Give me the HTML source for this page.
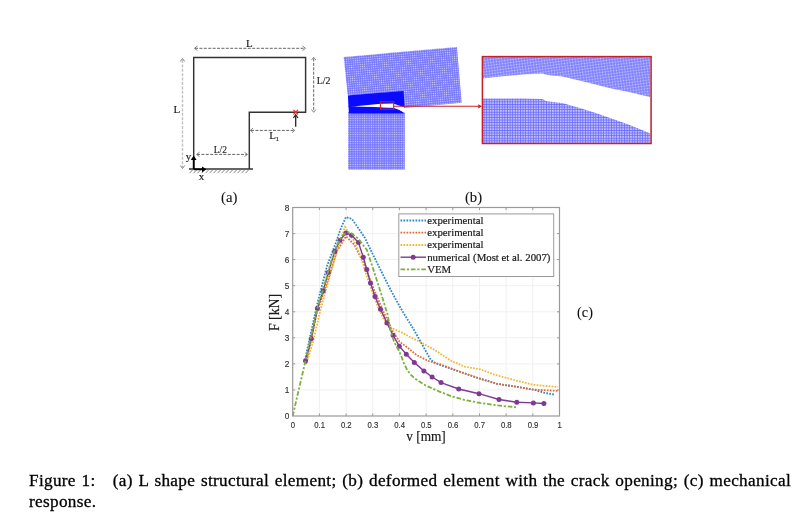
<!DOCTYPE html>
<html><head><meta charset="utf-8"><style>
html,body{margin:0;padding:0;background:#fff;width:811px;height:525px;overflow:hidden}
svg{position:absolute;left:0;top:0;will-change:transform}
.cap{position:absolute;will-change:transform;left:29px;width:762px;font-family:"Liberation Serif",serif;font-size:17.2px;letter-spacing:0.32px;color:#000;-webkit-text-stroke:0.3px #000;line-height:20.4px;text-align:justify;white-space:nowrap}
</style></head><body>
<svg width="811" height="525" viewBox="0 0 811 525">
<g stroke="#333" stroke-width="1.45" fill="none">
<polyline points="193.7,169 193.7,57.4 305.6,57.4 305.6,112.3 249.3,112.3 249.3,169"/>
</g>
<line x1="189" y1="169" x2="253" y2="169" stroke="#333" stroke-width="1.4"/>
<g stroke="#777" stroke-width="0.9"><line x1="192.5" y1="170" x2="189.5" y2="173.2"/><line x1="196.5" y1="170" x2="193.5" y2="173.2"/><line x1="200.5" y1="170" x2="197.5" y2="173.2"/><line x1="204.5" y1="170" x2="201.5" y2="173.2"/><line x1="208.5" y1="170" x2="205.5" y2="173.2"/><line x1="212.5" y1="170" x2="209.5" y2="173.2"/><line x1="216.5" y1="170" x2="213.5" y2="173.2"/><line x1="220.5" y1="170" x2="217.5" y2="173.2"/><line x1="224.5" y1="170" x2="221.5" y2="173.2"/><line x1="228.5" y1="170" x2="225.5" y2="173.2"/><line x1="232.5" y1="170" x2="229.5" y2="173.2"/><line x1="236.5" y1="170" x2="233.5" y2="173.2"/><line x1="240.5" y1="170" x2="237.5" y2="173.2"/><line x1="244.5" y1="170" x2="241.5" y2="173.2"/><line x1="248.5" y1="170" x2="245.5" y2="173.2"/></g>
<g stroke="#666" stroke-width="1" stroke-dasharray="3,1.4" fill="none">
<line x1="195" y1="48.3" x2="304.5" y2="48.3"/>
<line x1="182.5" y1="60" x2="182.5" y2="167.5" stroke="#c0c0c0" stroke-width="1.4"/>
<line x1="313.7" y1="58.5" x2="313.7" y2="111"/>
<line x1="197" y1="154.4" x2="247" y2="154.4"/>
<line x1="251" y1="130.4" x2="294" y2="130.4"/>
</g>
<g stroke="#666" stroke-width="0.8" fill="none">
<polyline points="197.5,46 194.5,48.3 197.5,50.6"/><polyline points="302.5,46 305.5,48.3 302.5,50.6"/>
<polyline points="180.3,61.5 182.5,58.5 184.7,61.5"/><polyline points="180.3,165.5 182.5,168.5 184.7,165.5"/>
<polyline points="311.5,60 313.7,57.3 315.9,60"/><polyline points="311.5,109.5 313.7,112.3 315.9,109.5"/>
<polyline points="199.5,152.2 196.5,154.4 199.5,156.6"/><polyline points="244.5,152.2 247.5,154.4 244.5,156.6"/>
<polyline points="253,128.2 250.3,130.4 253,132.6"/><polyline points="292,128.2 294.7,130.4 292,132.6"/>
</g>
<line x1="295.7" y1="126.7" x2="295.7" y2="116" stroke="#222" stroke-width="1.3"/>
<polyline points="293.4,118 295.7,114.7 298,118" stroke="#222" stroke-width="1.2" fill="none"/>
<g stroke="#f03030" stroke-width="1.2"><line x1="293.5" y1="110" x2="298" y2="114.5"/><line x1="298" y1="110" x2="293.5" y2="114.5"/></g>
<line x1="193.7" y1="169" x2="193.7" y2="159" stroke="#000" stroke-width="1.8"/>
<polygon points="190.8,160 193.7,155.5 196.6,160" fill="#000"/>
<line x1="193.7" y1="169.3" x2="203" y2="169.3" stroke="#000" stroke-width="1.8"/>
<polygon points="202,166.4 206.5,169.3 202,172.2" fill="#000"/>
<text x="249.3" y="46.5" font-size="11" text-anchor="middle" font-family="Liberation Serif" fill="#1a1a1a" stroke="#1a1a1a" stroke-width="0.15">L</text>
<text x="176.8" y="112.8" font-size="11" text-anchor="middle" font-family="Liberation Serif" fill="#1a1a1a" stroke="#1a1a1a" stroke-width="0.15">L</text>
<text transform="translate(323.6,84.3) scale(0.9,1)" font-size="11" text-anchor="middle" font-family="Liberation Serif" fill="#1a1a1a" stroke="#1a1a1a" stroke-width="0.15">L/2</text>
<text transform="translate(220.3,153) scale(0.86,1)" font-size="11" text-anchor="middle" font-family="Liberation Serif" fill="#1a1a1a" stroke="#1a1a1a" stroke-width="0.15">L/2</text>
<text x="272.5" y="139" font-size="11" text-anchor="middle" font-family="Liberation Serif" fill="#1a1a1a" stroke="#1a1a1a" stroke-width="0.15">L</text>
<text x="277.3" y="141.3" font-size="7" text-anchor="middle" font-family="Liberation Serif" fill="#1a1a1a" stroke="#1a1a1a" stroke-width="0.15">1</text>
<text x="188.5" y="160" font-size="11" text-anchor="middle" font-family="Liberation Serif" fill="#1a1a1a" stroke="#1a1a1a" stroke-width="0.15">y</text>
<text x="201.5" y="180" font-size="11" text-anchor="middle" font-family="Liberation Serif" fill="#1a1a1a" stroke="#1a1a1a" stroke-width="0.15">x</text>
<text transform="translate(229.2,202) scale(0.95,1)" font-size="15.5" text-anchor="middle" font-family="Liberation Serif" fill="#111" stroke="#111" stroke-width="0.1">(a)</text>
<text transform="translate(473.5,202) scale(0.95,1)" font-size="15.5" text-anchor="middle" font-family="Liberation Serif" fill="#111" stroke="#111" stroke-width="0.1">(b)</text>
<text transform="translate(585,316.8) scale(0.92,1)" font-size="15.5" text-anchor="middle" font-family="Liberation Serif" fill="#111" stroke="#111" stroke-width="0.1">(c)</text>
<defs>
<pattern id="mesh" width="2.3" height="2.3" patternUnits="userSpaceOnUse"><rect width="2.3" height="2.3" fill="#6c6cff"/><rect x="0.5" y="0.5" width="1.3" height="1.3" fill="#d0d0fc"/></pattern>
<pattern id="meshr" width="2.2" height="2.2" patternUnits="userSpaceOnUse" patternTransform="rotate(-5)"><rect width="2.2" height="2.2" fill="#6c6cff"/><rect x="0.5" y="0.5" width="1.25" height="1.25" fill="#d0d0fc"/></pattern>
<pattern id="mesh2" width="2.6" height="2.6" patternUnits="userSpaceOnUse"><rect width="2.6" height="2.6" fill="#6464ff"/><rect x="0.7" y="0.7" width="1.9" height="1.9" fill="#bcbcfa"/></pattern>
<pattern id="mesh3" width="2.8" height="2.8" patternUnits="userSpaceOnUse" patternTransform="rotate(-8)"><rect width="2.8" height="2.8" fill="#7a7aff"/><rect x="0.6" y="0.6" width="1.6" height="1.6" fill="#cacafb"/></pattern>
</defs>
<polygon points="343.7,57 456.9,47 461.7,102.7 404.6,107.9 347.7,95.3" fill="url(#meshr)"/>
<rect x="348.1" y="112" width="56.7" height="57.6" fill="url(#mesh)"/>
<polygon points="347.9,95.4 403.6,90.9 404.6,108.2 393.3,107.7 380,106 357,106.2 348.5,107" fill="#0a0aff"/>
<path d="M348.5,106 L357,106.4 L380,107 L393.3,107.7 Q400,109 404.6,113.6 L348.9,113.6 Z" fill="#0a0aff"/>
<path d="M355.3,106.3 L380.7,103.8 L393,103.6 L399,105.6 L404.6,107.6 L404.8,113 Q400,109.5 393.3,107.8 L380,107.3 Z" fill="#fff"/>
<rect x="380.4" y="101.8" width="13.3" height="7.4" fill="none" stroke="#c8202a" stroke-width="1.1"/>
<line x1="393.7" y1="106.3" x2="478" y2="106.3" stroke="#c8202a" stroke-width="1.1"/>
<polygon points="478.2,104.2 482,106.3 478.2,108.4" fill="#c8202a"/>
<clipPath id="zc"><rect x="482" y="57" width="168.6" height="86.5"/></clipPath>
<g clip-path="url(#zc)">
<rect x="482" y="57" width="168.6" height="43" fill="url(#mesh3)"/>
<rect x="482" y="98" width="168.6" height="46" fill="url(#mesh2)"/>
<path d="M480,78.6 L482.4,78.6 L500.2,76.4 L522.4,74.6 L542.4,73.5 L546.8,74.9 L562.3,76.4 L577.2,79.9 L594.3,84.2 L611.5,88.4 L628.6,91.9 L653,97.6 L653,134.6 L628.6,124.5 L611.5,118.5 L594.3,112.5 L577.2,107.3 L562.3,103 L546.8,101.3 L542.4,99 L522.4,98.6 L482.4,98.6 L480,98.6 Z" fill="#fff"/>
</g>
<rect x="482.4" y="56.6" width="168.7" height="86.9" fill="none" stroke="#c8202a" stroke-width="1.5"/>
<g stroke="#f0f0f0" stroke-width="1"><line x1="319.4" y1="207.5" x2="319.4" y2="416"/><line x1="346.1" y1="207.5" x2="346.1" y2="416"/><line x1="372.7" y1="207.5" x2="372.7" y2="416"/><line x1="399.4" y1="207.5" x2="399.4" y2="416"/><line x1="426.1" y1="207.5" x2="426.1" y2="416"/><line x1="452.8" y1="207.5" x2="452.8" y2="416"/><line x1="479.5" y1="207.5" x2="479.5" y2="416"/><line x1="506.1" y1="207.5" x2="506.1" y2="416"/><line x1="532.8" y1="207.5" x2="532.8" y2="416"/><line x1="292.7" y1="389.9" x2="559.5" y2="389.9"/><line x1="292.7" y1="363.9" x2="559.5" y2="363.9"/><line x1="292.7" y1="337.8" x2="559.5" y2="337.8"/><line x1="292.7" y1="311.8" x2="559.5" y2="311.8"/><line x1="292.7" y1="285.7" x2="559.5" y2="285.7"/><line x1="292.7" y1="259.6" x2="559.5" y2="259.6"/><line x1="292.7" y1="233.6" x2="559.5" y2="233.6"/></g>
<polyline points="305.0,360.0 317.0,305.0 327.0,266.0 335.0,245.0 341.0,228.0 346.0,217.0 352.0,219.0 365.0,238.0 370.7,250.0 382.8,274.4 390.5,289.6 399.6,306.3 406.0,317.0 414.0,330.0 420.5,341.6 430.8,359.9 435.3,363.3 459.0,371.4 478.0,378.0 497.0,383.8 516.0,386.7 533.4,389.6 545.0,393.0 555.0,394.7" fill="none" stroke="#2f86c8" stroke-width="1.8" stroke-dasharray="1.7,1.3"/>
<polyline points="306.0,364.0 317.0,312.0 328.0,280.0 337.0,251.0 346.0,236.4 354.0,244.4 363.0,261.6 369.0,277.0 374.5,291.0 379.8,303.3 384.4,314.0 388.9,323.0 392.0,330.0 399.5,341.7 405.7,346.2 417.0,355.3 428.5,361.0 440.0,364.2 459.0,371.4 478.0,378.1 497.0,383.8 516.0,386.7 533.4,389.6 558.0,390.9" fill="none" stroke="#df6a32" stroke-width="1.8" stroke-dasharray="1.7,1.3"/>
<polyline points="306.5,363.0 313.0,342.0 320.0,312.0 330.0,275.0 338.0,248.0 345.0,227.0 354.0,241.0 361.0,257.0 366.0,274.0 372.0,291.0 378.0,307.0 383.5,318.8 391.5,328.0 401.8,332.5 410.0,337.0 419.4,341.6 435.3,350.3 451.4,361.0 464.8,366.7 480.0,369.2 493.4,374.3 516.2,380.6 533.4,384.8 558.0,387.0" fill="none" stroke="#efb933" stroke-width="1.8" stroke-dasharray="1.7,1.3"/>
<polyline points="305.5,360.7 311.3,338.8 317.4,308.5 323.2,290.7 328.2,272.6 334.7,251.5 340.0,240.2 346.0,233.0 351.5,235.2 358.5,242.6 363.3,257.3 366.8,269.5 370.5,283.0 375.0,296.5 380.5,309.2 386.9,322.9 393.1,335.3 399.3,346.2 406.3,354.2 414.3,362.6 423.9,370.9 432.1,377.0 441.0,382.6 458.7,389.0 479.0,393.7 499.0,399.5 516.8,402.3 533.4,402.9 543.9,403.5" fill="none" stroke="#7e3a92" stroke-width="1.4"/>
<g fill="#7e3a92"><circle cx="305.5" cy="360.7" r="2.5"/><circle cx="311.3" cy="338.8" r="2.5"/><circle cx="317.4" cy="308.5" r="2.5"/><circle cx="323.2" cy="290.7" r="2.5"/><circle cx="328.2" cy="272.6" r="2.5"/><circle cx="334.7" cy="251.5" r="2.5"/><circle cx="340" cy="240.2" r="2.5"/><circle cx="346" cy="233" r="2.5"/><circle cx="351.5" cy="235.2" r="2.5"/><circle cx="358.5" cy="242.6" r="2.5"/><circle cx="363.3" cy="257.3" r="2.5"/><circle cx="366.8" cy="269.5" r="2.5"/><circle cx="370.5" cy="283" r="2.5"/><circle cx="375" cy="296.5" r="2.5"/><circle cx="380.5" cy="309.2" r="2.5"/><circle cx="386.9" cy="322.9" r="2.5"/><circle cx="393.1" cy="335.3" r="2.5"/><circle cx="399.3" cy="346.2" r="2.5"/><circle cx="406.3" cy="354.2" r="2.5"/><circle cx="414.3" cy="362.6" r="2.5"/><circle cx="423.9" cy="370.9" r="2.5"/><circle cx="432.1" cy="377" r="2.5"/><circle cx="441" cy="382.6" r="2.5"/><circle cx="458.7" cy="389" r="2.5"/><circle cx="479" cy="393.7" r="2.5"/><circle cx="499" cy="399.5" r="2.5"/><circle cx="516.8" cy="402.3" r="2.5"/><circle cx="533.4" cy="402.9" r="2.5"/><circle cx="543.9" cy="403.5" r="2.5"/></g>
<polyline points="292.7,416.0 305.5,360.7 317.0,310.0 328.0,272.0 334.0,252.0 338.0,243.0 342.4,235.5 347.0,232.3 350.0,232.3 358.3,238.7 366.9,250.0 375.2,275.1 381.3,294.2 387.4,314.0 390.5,330.0 394.0,341.7 397.7,348.5 400.5,354.0 404.0,363.5 407.4,370.3 411.0,375.0 415.0,378.6 425.7,385.5 439.4,391.6 451.4,396.2 464.8,400.0 480.0,402.9 497.0,405.4 516.0,407.3" fill="none" stroke="#7cb03a" stroke-width="1.8" stroke-dasharray="4.6,1.8,2.2,1.8"/>
<rect x="292.7" y="207.5" width="266.8" height="208.5" fill="none" stroke="#9a9a9a" stroke-width="1.2"/>
<g stroke="#9a9a9a" stroke-width="1"><line x1="319.4" y1="416" x2="319.4" y2="413.5"/><line x1="319.4" y1="207.5" x2="319.4" y2="210"/><line x1="346.1" y1="416" x2="346.1" y2="413.5"/><line x1="346.1" y1="207.5" x2="346.1" y2="210"/><line x1="372.7" y1="416" x2="372.7" y2="413.5"/><line x1="372.7" y1="207.5" x2="372.7" y2="210"/><line x1="399.4" y1="416" x2="399.4" y2="413.5"/><line x1="399.4" y1="207.5" x2="399.4" y2="210"/><line x1="426.1" y1="416" x2="426.1" y2="413.5"/><line x1="426.1" y1="207.5" x2="426.1" y2="210"/><line x1="452.8" y1="416" x2="452.8" y2="413.5"/><line x1="452.8" y1="207.5" x2="452.8" y2="210"/><line x1="479.5" y1="416" x2="479.5" y2="413.5"/><line x1="479.5" y1="207.5" x2="479.5" y2="210"/><line x1="506.1" y1="416" x2="506.1" y2="413.5"/><line x1="506.1" y1="207.5" x2="506.1" y2="210"/><line x1="532.8" y1="416" x2="532.8" y2="413.5"/><line x1="532.8" y1="207.5" x2="532.8" y2="210"/><line x1="292.7" y1="389.9" x2="295.2" y2="389.9"/><line x1="559.5" y1="389.9" x2="557" y2="389.9"/><line x1="292.7" y1="363.9" x2="295.2" y2="363.9"/><line x1="559.5" y1="363.9" x2="557" y2="363.9"/><line x1="292.7" y1="337.8" x2="295.2" y2="337.8"/><line x1="559.5" y1="337.8" x2="557" y2="337.8"/><line x1="292.7" y1="311.8" x2="295.2" y2="311.8"/><line x1="559.5" y1="311.8" x2="557" y2="311.8"/><line x1="292.7" y1="285.7" x2="295.2" y2="285.7"/><line x1="559.5" y1="285.7" x2="557" y2="285.7"/><line x1="292.7" y1="259.6" x2="295.2" y2="259.6"/><line x1="559.5" y1="259.6" x2="557" y2="259.6"/><line x1="292.7" y1="233.6" x2="295.2" y2="233.6"/><line x1="559.5" y1="233.6" x2="557" y2="233.6"/></g>
<rect x="398.8" y="213.9" width="154.9" height="62.6" fill="#fff" stroke="#9a9a9a" stroke-width="1"/>
<line x1="400.5" y1="220.5" x2="426" y2="220.5" stroke="#2f86c8" stroke-width="1.8" stroke-dasharray="1.7,1.3"/>
<line x1="400.5" y1="232.7" x2="426" y2="232.7" stroke="#df6a32" stroke-width="1.8" stroke-dasharray="1.7,1.3"/>
<line x1="400.5" y1="245" x2="426" y2="245" stroke="#efb933" stroke-width="1.8" stroke-dasharray="1.7,1.3"/>
<line x1="400.5" y1="257.2" x2="426" y2="257.2" stroke="#7e3a92" stroke-width="1.4"/><circle cx="413.2" cy="257.2" r="2.5" fill="#7e3a92"/>
<line x1="400.5" y1="269.4" x2="426" y2="269.4" stroke="#7cb03a" stroke-width="1.8" stroke-dasharray="4.6,1.8,2.2,1.8"/>
<text x="427.2" y="223.8" font-family="Liberation Serif" font-size="10.8" fill="#1a1a1a" stroke="#1a1a1a" stroke-width="0.2">experimental</text>
<text x="427.2" y="236.0" font-family="Liberation Serif" font-size="10.8" fill="#1a1a1a" stroke="#1a1a1a" stroke-width="0.2">experimental</text>
<text x="427.2" y="248.3" font-family="Liberation Serif" font-size="10.8" fill="#1a1a1a" stroke="#1a1a1a" stroke-width="0.2">experimental</text>
<text x="427.2" y="260.5" font-family="Liberation Serif" font-size="10.8" fill="#1a1a1a" stroke="#1a1a1a" stroke-width="0.2">numerical (Most et al. 2007)</text>
<text x="427.2" y="272.7" font-family="Liberation Serif" font-size="10.8" fill="#1a1a1a" stroke="#1a1a1a" stroke-width="0.2">VEM</text>
<text transform="translate(289.3,419.1) scale(0.92,1)" text-anchor="end" font-family="Liberation Sans" font-size="9" fill="#303030" stroke="#303030" stroke-width="0.15">0</text>
<text transform="translate(289.3,393.0) scale(0.92,1)" text-anchor="end" font-family="Liberation Sans" font-size="9" fill="#303030" stroke="#303030" stroke-width="0.15">1</text>
<text transform="translate(289.3,367.0) scale(0.92,1)" text-anchor="end" font-family="Liberation Sans" font-size="9" fill="#303030" stroke="#303030" stroke-width="0.15">2</text>
<text transform="translate(289.3,340.9) scale(0.92,1)" text-anchor="end" font-family="Liberation Sans" font-size="9" fill="#303030" stroke="#303030" stroke-width="0.15">3</text>
<text transform="translate(289.3,314.9) scale(0.92,1)" text-anchor="end" font-family="Liberation Sans" font-size="9" fill="#303030" stroke="#303030" stroke-width="0.15">4</text>
<text transform="translate(289.3,288.8) scale(0.92,1)" text-anchor="end" font-family="Liberation Sans" font-size="9" fill="#303030" stroke="#303030" stroke-width="0.15">5</text>
<text transform="translate(289.3,262.7) scale(0.92,1)" text-anchor="end" font-family="Liberation Sans" font-size="9" fill="#303030" stroke="#303030" stroke-width="0.15">6</text>
<text transform="translate(289.3,236.7) scale(0.92,1)" text-anchor="end" font-family="Liberation Sans" font-size="9" fill="#303030" stroke="#303030" stroke-width="0.15">7</text>
<text transform="translate(289.3,210.6) scale(0.92,1)" text-anchor="end" font-family="Liberation Sans" font-size="9" fill="#303030" stroke="#303030" stroke-width="0.15">8</text>
<text transform="translate(292.9,428) scale(0.86,1)" text-anchor="middle" font-family="Liberation Sans" font-size="9" fill="#303030" stroke="#303030" stroke-width="0.15">0</text>
<text transform="translate(319.6,428) scale(0.86,1)" text-anchor="middle" font-family="Liberation Sans" font-size="9" fill="#303030" stroke="#303030" stroke-width="0.15">0.1</text>
<text transform="translate(346.3,428) scale(0.86,1)" text-anchor="middle" font-family="Liberation Sans" font-size="9" fill="#303030" stroke="#303030" stroke-width="0.15">0.2</text>
<text transform="translate(372.9,428) scale(0.86,1)" text-anchor="middle" font-family="Liberation Sans" font-size="9" fill="#303030" stroke="#303030" stroke-width="0.15">0.3</text>
<text transform="translate(399.6,428) scale(0.86,1)" text-anchor="middle" font-family="Liberation Sans" font-size="9" fill="#303030" stroke="#303030" stroke-width="0.15">0.4</text>
<text transform="translate(426.3,428) scale(0.86,1)" text-anchor="middle" font-family="Liberation Sans" font-size="9" fill="#303030" stroke="#303030" stroke-width="0.15">0.5</text>
<text transform="translate(453.0,428) scale(0.86,1)" text-anchor="middle" font-family="Liberation Sans" font-size="9" fill="#303030" stroke="#303030" stroke-width="0.15">0.6</text>
<text transform="translate(479.7,428) scale(0.86,1)" text-anchor="middle" font-family="Liberation Sans" font-size="9" fill="#303030" stroke="#303030" stroke-width="0.15">0.7</text>
<text transform="translate(506.3,428) scale(0.86,1)" text-anchor="middle" font-family="Liberation Sans" font-size="9" fill="#303030" stroke="#303030" stroke-width="0.15">0.8</text>
<text transform="translate(533.0,428) scale(0.86,1)" text-anchor="middle" font-family="Liberation Sans" font-size="9" fill="#303030" stroke="#303030" stroke-width="0.15">0.9</text>
<text transform="translate(559.7,428) scale(0.86,1)" text-anchor="middle" font-family="Liberation Sans" font-size="9" fill="#303030" stroke="#303030" stroke-width="0.15">1</text>
<text transform="translate(426,441) scale(0.92,1)" font-size="14.5" text-anchor="middle" font-family="Liberation Serif" fill="#1a1a1a" stroke="#1a1a1a" stroke-width="0.2">v [mm]</text>
<text transform="translate(279,312.5) rotate(-90) scale(0.95,1)" font-size="14.5" text-anchor="middle" font-family="Liberation Serif" fill="#1a1a1a" stroke="#1a1a1a" stroke-width="0.2">F [kN]</text>
</svg>
<div class="cap" style="top:470.8px;text-align-last:justify">Figure 1:&nbsp;&nbsp; (a) L shape structural element; (b) deformed element with the crack opening; (c) mechanical</div>
<div class="cap" style="top:492px">response.</div>
</body></html>
